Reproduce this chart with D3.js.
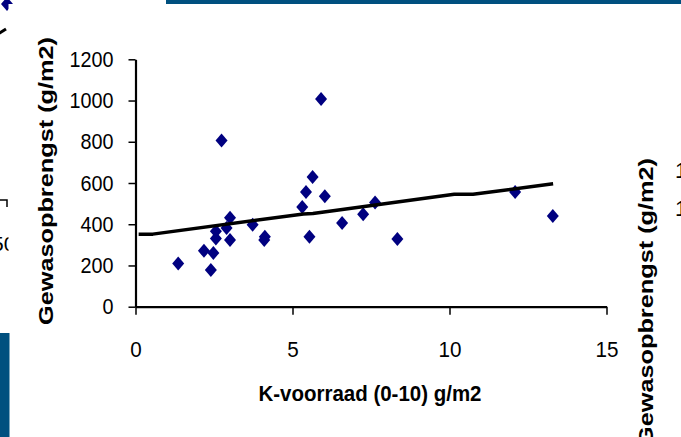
<!DOCTYPE html>
<html><head><meta charset="utf-8">
<script src="https://cdn.jsdelivr.net/npm/d3@7"></script>
<style>html,body{margin:0;padding:0;background:#fff;}svg{display:block;font-family:"Liberation Sans",Arial,sans-serif;}</style>
</head><body>
<script>
// Data
const kStock = [1.36, 2.18, 2.48, 2.40, 2.56, 2.56, 2.74, 2.90, 3.01, 3.01, 3.73, 4.12, 4.10, 5.31, 5.43, 5.64, 5.54, 5.91, 6.03, 6.58, 7.25, 7.63, 8.34, 12.09, 13.29];
const yieldVals = [210, 271, 261, 178, 366, 331, 806, 382, 432, 323, 398, 339, 323, 484, 556, 629, 339, 1008, 536, 406, 448, 506, 328, 556, 440];
const trendX = [0.1, 0.55, 5.35, 5.65, 10.15, 10.75, 13.3];
const trendY = [352, 352, 450, 452, 545, 545, 596];
const xTicks = [0, 5, 10, 15];
const yTicks = [0, 200, 400, 600, 800, 1000, 1200];
const xTitle = "K-voorraad (0-10) g/m2";
const yTitle = "Gewasopbrengst (g/m2)";

const W = 681, H = 437;
const svg = d3.select("body").append("svg").attr("width", W).attr("height", H);

// neighbouring slide fragments (left edge)
svg.append("path").attr("d", "M0,-7L6,0L0,7L-6,0Z").attr("transform", "translate(7,4)").attr("fill", "#000080");
svg.append("line").attr("x1", -2).attr("y1", 34).attr("x2", 6).attr("y2", 29).attr("stroke", "#000").attr("stroke-width", 3);
svg.append("path").attr("d", "M-5,200H7V207").attr("fill", "none").attr("stroke", "#000").attr("stroke-width", 1.5);
svg.append("text").attr("x", -8).attr("y", 251).attr("font-size", 21).attr("fill", "#000").text("50");
svg.append("rect").attr("x", 8.5).attr("y", 4).attr("width", W).attr("height", H).attr("fill", "#fff");
svg.append("rect").attr("x", 0).attr("y", 333).attr("width", 9.5).attr("height", H - 333).attr("fill", "#00507F");
svg.append("rect").attr("x", 166).attr("y", 0).attr("width", W - 166).attr("height", 4).attr("fill", "#00507F");

// right-edge fragments of the next chart
svg.append("text").attr("transform", "translate(653,302) rotate(-90)").attr("text-anchor", "middle")
  .attr("font-size", 20).attr("font-weight", "bold").attr("textLength", 288).attr("lengthAdjust", "spacingAndGlyphs").text(yTitle);
svg.append("text").attr("x", 675).attr("y", 178).attr("font-size", 22).text("1200");
svg.append("text").attr("x", 675).attr("y", 216).attr("font-size", 22).text("1000");

// Main chart
const x = d3.scaleLinear().domain([0, 15]).range([135.5, 606.5]);
const y = d3.scaleLinear().domain([0, 1200]).range([306.7, 59.3]);

const gx = svg.append("g").attr("transform", `translate(0,${y(0)})`)
  .call(d3.axisBottom(x).tickValues(xTicks).tickFormat(d3.format("d")).tickSizeInner(8).tickSizeOuter(0).tickPadding(27));
gx.select(".domain").attr("stroke-width", 2.2);
gx.selectAll(".tick line").attr("stroke-width", 1.5);
gx.selectAll(".tick text").attr("font-size", 22).attr("font-family", "Liberation Sans, Arial, sans-serif").attr("fill", "#000")
  .attr("textLength", d => String(d).length * 11.5).attr("lengthAdjust", "spacingAndGlyphs");

const gy = svg.append("g").attr("transform", `translate(${x(0)},0)`)
  .call(d3.axisLeft(y).tickValues(yTicks).tickFormat(d3.format("d")).tickSizeInner(7).tickSizeOuter(0).tickPadding(15));
gy.select(".domain").attr("stroke-width", 2.2);
gy.selectAll(".tick line").attr("stroke-width", 1.5);
gy.selectAll(".tick text").attr("font-size", 22).attr("font-family", "Liberation Sans, Arial, sans-serif").attr("fill", "#000")
  .attr("textLength", d => String(d).length * 11).attr("lengthAdjust", "spacingAndGlyphs");

// Points
svg.append("g").selectAll("path").data(kStock.map((k, i) => [k, yieldVals[i]])).join("path")
  .attr("d", "M0,-7L6,0L0,7L-6,0Z")
  .attr("transform", d => `translate(${x(d[0])},${y(d[1])})`)
  .attr("fill", "#000080");

// Trend line
svg.append("path").datum(trendX.map((t, i) => [t, trendY[i]]))
  .attr("d", d3.line().x(d => x(d[0])).y(d => y(d[1])))
  .attr("fill", "none").attr("stroke", "#000").attr("stroke-width", 3.5).attr("stroke-linejoin", "round");

// Titles
svg.append("text").attr("x", 370).attr("y", 401).attr("text-anchor", "middle")
  .attr("font-size", 22).attr("font-weight", "bold").attr("textLength", 223).attr("lengthAdjust", "spacingAndGlyphs").text(xTitle);
svg.append("text").attr("transform", "translate(53,181) rotate(-90)").attr("text-anchor", "middle")
  .attr("font-size", 20).attr("font-weight", "bold").attr("textLength", 288).attr("lengthAdjust", "spacingAndGlyphs").text(yTitle);
</script>
</body></html>
